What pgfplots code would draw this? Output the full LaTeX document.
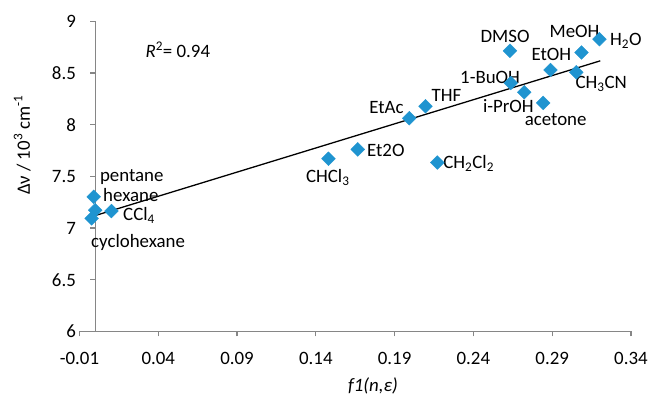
\documentclass[border=0pt]{standalone}
\usepackage{fontspec}
\setmainfont{Carlito}
\usepackage{pgfplots}
\pgfplotsset{compat=1.18}
\definecolor{mk}{RGB}{31,148,208}
\definecolor{axc}{RGB}{134,134,134}
\begin{document}
\fontsize{19bp}{22bp}\selectfont
\begin{tikzpicture}
\begin{axis}[
  scale only axis, width=555bp, height=312bp,
  xmin=-0.01, xmax=0.34, ymin=6, ymax=9,
  axis x line=bottom, axis y line=center,
  hide obscured x ticks=false, hide obscured y ticks=false,
  axis line style={draw=axc, line width=1.3bp, -},
  tick style={draw=axc, line width=1.3bp},
  tick align=outside, major tick length=5bp,
  xtick={-0.01,0.04,0.09,0.14,0.19,0.24,0.29,0.34},
  xticklabels={-0.01,0.04,0.09,0.14,0.19,0.24,0.29,0.34},
  ytick={6,6.5,7,7.5,8,8.5,9},
  yticklabels={6,6.5,7,7.5,8,8.5,9},
  /pgf/number format/assume math mode=true,
  yticklabel style={xshift=-8bp},
  xticklabel style={yshift=-9bp},
  font=\fontsize{19bp}{22bp}\selectfont,
  clip=false,
]
\coordinate (bl) at (rel axis cs:0,0);
\coordinate (tr) at (rel axis cs:1,1);
\addplot[only marks, mark=square*, mark size=4.9bp, mark options={rotate=45, fill=mk, draw=mk}] coordinates {
(-0.001,7.302) (0.000,7.173) (-0.0023,7.093) (0.0103,7.164)
(0.148,7.671) (0.2632,8.715) (0.3086,8.699) (0.320,8.828)
(0.2889,8.529) (0.3053,8.507) (0.2637,8.404) (0.2723,8.314)
(0.2843,8.211) (0.2096,8.179) (0.1993,8.063) (0.1666,7.761)
(0.2171,7.634)
};
\addplot[black, line width=1.3bp, no marks] coordinates {(-0.0023,7.110) (0.3205,8.618)};
\node at (axis cs:0.0232,7.495) {pentane};
\node at (axis cs:0.0226,7.318) {hexane};
\node at (axis cs:0.0278,7.122) {CCl\textsubscript{4}};
\node at (axis cs:0.0272,6.862) {cyclohexane};
\node at (axis cs:0.1476,7.486) {CHCl\textsubscript{3}};
\node at (axis cs:0.0524,8.726) {\textit{R}\textsuperscript{2}= 0.94};
\node at (axis cs:0.2601,8.854) {DMSO};
\node at (axis cs:0.3042,8.902) {MeOH};
\node at (axis cs:0.3368,8.811) {H\textsubscript{2}O};
\node at (axis cs:0.2895,8.683) {EtOH};
\node at (axis cs:0.3211,8.394) {CH\textsubscript{3}CN};
\node at (axis cs:0.2506,8.459) {1-BuOH};
\node at (axis cs:0.2622,8.185) {i-PrOH};
\node at (axis cs:0.2922,8.050) {acetone};
\node at (axis cs:0.2229,8.281) {THF};
\node at (axis cs:0.1848,8.170) {EtAc};
\node at (axis cs:0.1844,7.751) {Et2O};
\node at (axis cs:0.2370,7.623) {CH\textsubscript{2}Cl\textsubscript{2}};
\node[rotate=90] at (axis cs:-0.0463,7.803) {Δν / 10\textsuperscript{3} cm\textsuperscript{-1}};
\node at (axis cs:0.1763,5.475) {\textit{f1(n,ε)}};
\end{axis}
\path ([shift={(-80bp,-62.5bp)}]bl) rectangle ([shift={(19bp,21.5bp)}]tr);
\end{tikzpicture}
\end{document}
